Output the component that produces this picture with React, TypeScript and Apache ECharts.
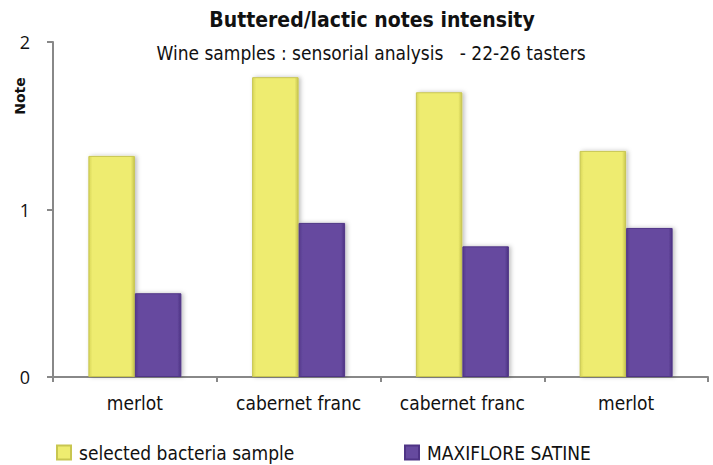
import React, { useEffect, useRef } from "react";
import * as echarts from "echarts";

const categories = ["merlot", "cabernet franc", "cabernet franc", "merlot"];
const selectedBacteria = [1.32, 1.79, 1.70, 1.35];
const maxifloreSatine = [0.50, 0.92, 0.78, 0.89];
const yTicks = [0, 1, 2];
const titleText = "Buttered/lactic notes intensity";
const subtitleText = "Wine samples : sensorial analysis   - 22-26 tasters";
const yAxisTitle = "Note";
const seriesNames = ["selected bacteria sample", "MAXIFLORE SATINE"];

const FONT = "'DejaVu Sans Condensed', 'Liberation Sans Narrow', sans-serif";

export default function App() {
  const ref = useRef<HTMLDivElement>(null);
  useEffect(() => {
    if (!ref.current) return;
    const chart = echarts.init(ref.current, undefined, { renderer: "svg" });
    const legendBase = {
      top: 443,
      padding: 0,
      itemWidth: 14,
      itemHeight: 14,
      icon: "rect",
      textStyle: { fontFamily: FONT, fontSize: 19, color: "#111", padding: [0, 0, 0, 3] },
    };
    chart.setOption({
      animation: false,
      backgroundColor: "#ffffff",
      graphic: [
        {
          type: "text",
          x: 372,
          y: 20,
          style: {
            text: titleText,
            textAlign: "center",
            textVerticalAlign: "middle",
            fontFamily: FONT,
            fontWeight: "bold",
            fontSize: 21,
            fill: "#111",
          },
        },
        {
          type: "text",
          x: 371,
          y: 53,
          style: {
            text: subtitleText,
            textAlign: "center",
            textVerticalAlign: "middle",
            fontFamily: FONT,
            fontSize: 19,
            fill: "#111",
          },
        },
        {
          type: "text",
          x: 20,
          y: 96,
          rotation: Math.PI / 2,
          style: {
            text: yAxisTitle,
            textAlign: "center",
            textVerticalAlign: "middle",
            fontFamily: "'DejaVu Sans', sans-serif",
            fontWeight: "bold",
            fontSize: 14,
            fill: "#111",
          },
        },
      ],
      legend: [
        { ...legendBase, left: 56, data: [seriesNames[0]] },
        { ...legendBase, left: 404, data: [seriesNames[1]] },
      ],
      grid: { left: 53, right: 5, top: 42, bottom: 88, containLabel: false, outerBoundsMode: "none" },
      xAxis: {
        type: "category",
        data: categories,
        axisLine: { lineStyle: { color: "#888", width: 2 } },
        axisTick: { show: true, length: 5, lineStyle: { color: "#888", width: 2 } },
        axisLabel: { fontFamily: FONT, fontSize: 19, color: "#111", margin: 16 },
      },
      yAxis: {
        type: "value",
        min: yTicks[0],
        max: yTicks[yTicks.length - 1],
        interval: 1,
        axisLine: { show: true, lineStyle: { color: "#888", width: 2 } },
        axisTick: { show: true, length: 6, lineStyle: { color: "#888", width: 2 } },
        splitLine: { show: false },
        axisLabel: { fontFamily: "'Open Sans', sans-serif", fontSize: 18, color: "#111", margin: 23 },
      },
      series: [
        {
          name: seriesNames[0],
          type: "bar",
          data: selectedBacteria,
          barWidth: "28.4%",
          barGap: "0%",
          itemStyle: {
            color: new echarts.graphic.LinearGradient(0, 0, 1, 0, [
              { offset: 0, color: "#d9d75a" },
              { offset: 0.08, color: "#eeec70" },
              { offset: 0.92, color: "#eeec70" },
              { offset: 1, color: "#c9c750" },
            ]),
            borderColor: "#c8c650",
            borderWidth: 1,
            shadowColor: "rgba(0,0,0,0.25)",
            shadowBlur: 4,
            shadowOffsetX: 2,
          },
        },
        {
          name: seriesNames[1],
          type: "bar",
          data: maxifloreSatine,
          barWidth: "28.4%",
          itemStyle: {
            color: new echarts.graphic.LinearGradient(0, 0, 1, 0, [
              { offset: 0, color: "#55398d" },
              { offset: 0.08, color: "#664a9f" },
              { offset: 0.92, color: "#664a9f" },
              { offset: 1, color: "#4d3283" },
            ]),
            borderColor: "#4f3486",
            borderWidth: 1,
            shadowColor: "rgba(0,0,0,0.25)",
            shadowBlur: 4,
            shadowOffsetX: 2,
          },
        },
      ],
    });
    return () => chart.dispose();
  }, []);
  return <div ref={ref} style={{ width: 713, height: 465, position: "absolute", left: 0, top: 0 }} />;
}
